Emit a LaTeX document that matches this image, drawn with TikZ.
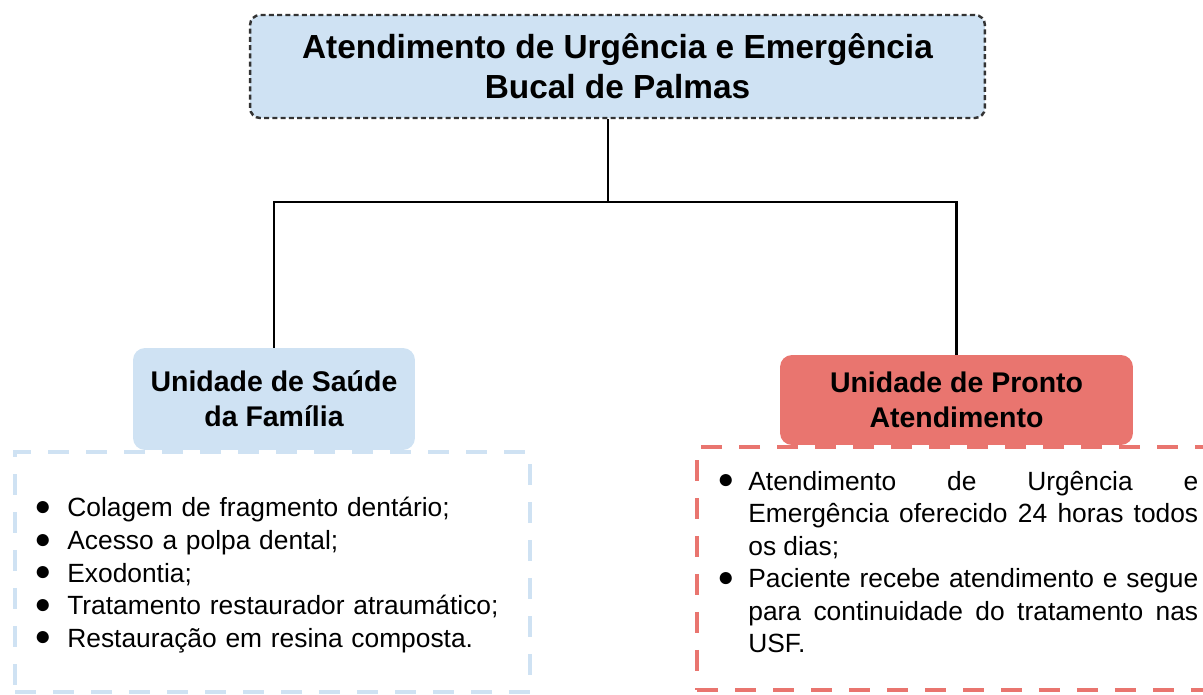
\documentclass[tikz,border=0pt]{standalone}
\usepackage{fontspec}
\setmainfont{Liberation Sans}
\usetikzlibrary{positioning}
\definecolor{paleblue}{HTML}{CFE2F3}
\definecolor{softred}{HTML}{E9756F}
\definecolor{inkgray}{HTML}{333333}
\newlength{\bulletgap}
\newcommand{\bulletitem}[1]{\hangindent=\bulletgap\hangafter=1\noindent\makebox[\bulletgap][l]{\raisebox{0.8pt}{\fontsize{16pt}{16pt}\selectfont ●}}#1\par}

\begin{document}
\begin{tikzpicture}[
        x=0.02cm, y=-0.02cm,
        titlebox/.style={rectangle, rounded corners=0.2cm, fill=paleblue, draw=inkgray, line width=1.4pt, dash pattern=on 0.1cm off 0.065cm, minimum width=14.7cm, minimum height=2.06cm, align=center, font=\fontsize{19pt}{22.7pt}\selectfont\bfseries},
        unitbox/.style={rectangle, rounded corners=0.24cm, align=center, font=\fontsize{16.2pt}{19.9pt}\selectfont\bfseries},
        listframe/.style={rectangle, line width=2.5pt, dash pattern=on 0.42cm off 0.34cm},
        itemtext/.style={inner sep=0pt, anchor=base west, font=\fontsize{15pt}{18.5pt}\selectfont},
        link/.style={line width=1.6pt}
    ]
        \clip (0,0) rectangle (1203,695);

        \node[titlebox] (title) at (617.5,66.5) {Atendimento de Urgência e Emergência\\Bucal de Palmas};

        \node[listframe, draw=paleblue, minimum width=10.3cm, minimum height=4.8cm] (usfframe) at (272.5,572) {};
        \node[listframe, draw=softred, minimum width=10.36cm, minimum height=4.86cm] (upaframe) at (956,568.5) {};

        \node[unitbox, fill=paleblue, minimum width=5.64cm, minimum height=2.04cm] (usf) at (274,399) {Unidade de Saúde\\da Família};
        \node[unitbox, fill=softred, minimum width=7.06cm, minimum height=1.8cm] (upa) at (956.5,400) {Unidade de Pronto\\Atendimento};

        \coordinate (fork) at (608,202);
        \draw[link] (title.south -| fork) -- (fork);
        \draw[link] (usf.north) |- (fork) -| (upa.north);

        \node[itemtext, text width=9.8cm, align=left] (usfitems) at (34,517) {\setlength{\bulletgap}{0.66cm}%
            \bulletitem{Colagem de fragmento dentário;}
            \bulletitem{Acesso a polpa dental;}
            \bulletitem{Exodontia;}
            \bulletitem{Tratamento restaurador atraumático;}
            \bulletitem{Restauração em resina composta.}};
        \node[itemtext, text width=9.62cm, align=justify] (upaitems) at (717,490) {\setlength{\bulletgap}{0.62cm}%
            \bulletitem{Atendimento de Urgência e\linebreak Emergência oferecido 24 horas todos\linebreak os dias;}
            \bulletitem{Paciente recebe atendimento e segue\linebreak para continuidade do tratamento nas\linebreak USF.}};
    \end{tikzpicture}
\end{document}
